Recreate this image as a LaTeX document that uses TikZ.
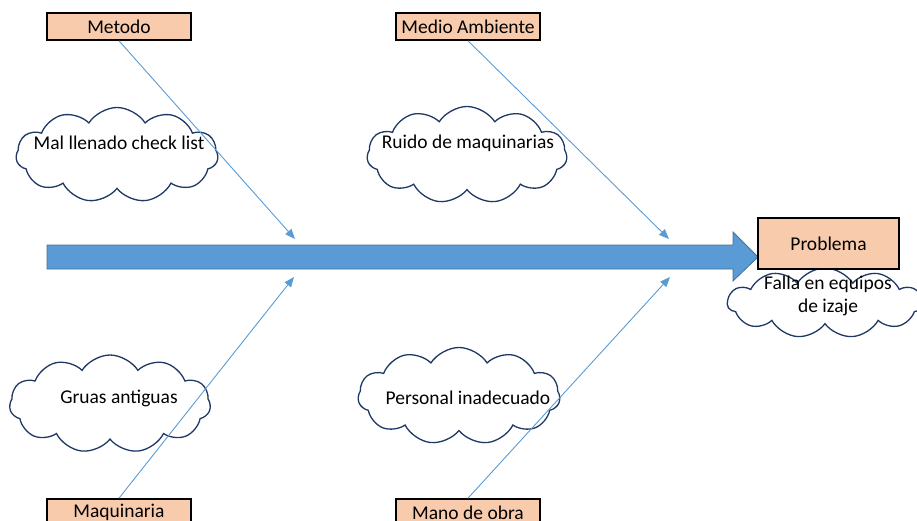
\documentclass[tikz,border=0pt]{standalone}
\usepackage{fontspec}
\setmainfont{Carlito}
\usepackage{xcolor}
\usepackage{tikz}
\usetikzlibrary{arrows.meta, shapes.symbols}

\definecolor{azul}{HTML}{5B9BD5}
\definecolor{azulborde}{HTML}{41719C}
\definecolor{salmon}{HTML}{F8CBAD}
\definecolor{marino}{HTML}{203864}

\begin{document}
\begin{tikzpicture}[
  x=1pt, y=-1pt,
  font=\fontsize{19.5}{23}\selectfont,
  categoria/.style={
    rectangle, draw=black, fill=salmon,
    minimum width=144pt, minimum height=27pt,
    inner sep=0pt, line width=1.6pt
  },
  nube/.style={
    cloud, draw=marino, fill=white, cloud puffs=11,
    cloud puff arc=115, inner sep=0pt, line width=1.3pt
  },
  causa/.style={inner sep=0pt, align=center},
  espina/.style={fill=azul, draw=azulborde, line width=0.8pt},
  line/.style={draw, -{Triangle[length=10pt,width=8pt]}, color=azul, line width=0.9pt}
]
  \useasboundingbox (0,0) rectangle (917,521);

  % espina principal
  \path [espina] (47,245) -- (733,245) -- (733,232) -- (758,257)
    -- (733,281) -- (733,269) -- (47,269) -- cycle;

  % nubes de causas
  \node [nube, minimum width=202pt, minimum height=95pt] (nubeMetodo) at (117,155) {};
  \node [nube, minimum width=200pt, minimum height=97pt] (nubeAmbiente) at (467,155) {};
  \node [nube, minimum width=201pt, minimum height=98pt] (nubeMaquinaria) at (110,404) {};
  \node [nube, minimum width=202pt, minimum height=97pt] (nubeMano) at (459,396) {};
  \node [nube, minimum width=195pt, minimum height=70pt] (nubeProblema) at (825,303) {};

  \node [causa] (checklist) at (119,143) {Mal llenado check list};
  \node [causa] (ruido) at (468,143) {Ruido de maquinarias};
  \node [causa] (gruas) at (119,398) {Gruas antiguas};
  \node [causa] (personal) at (468,398) {Personal inadecuado};
  \node [causa] (falla) at (828,296) {Falla en equipos\\de izaje};

  % categorias
  \node [categoria] (metodo) at (119,26.5) {Metodo};
  \node [categoria] (ambiente) at (468,26.5) {Medio Ambiente};
  \node [categoria] (maquinaria) at (119,512.5) {Maquinaria};
  \node [categoria] (mano) at (468,512.5) {Mano de obra};
  \node [categoria, minimum width=141pt, minimum height=51pt] (problema) at (828.5,243.5) {Problema};

  % puntos sobre la espina
  \coordinate (pMetodo) at (295,239);
  \coordinate (pAmbiente) at (669,239);
  \coordinate (pMaquinaria) at (294,277);
  \coordinate (pMano) at (670,277);

  \path [line] (metodo.south) -- (pMetodo);
  \path [line] (ambiente.south) -- (pAmbiente);
  \path [line] (maquinaria.north) -- (pMaquinaria);
  \path [line] (mano.north) -- (pMano);

\end{tikzpicture}
\end{document}
